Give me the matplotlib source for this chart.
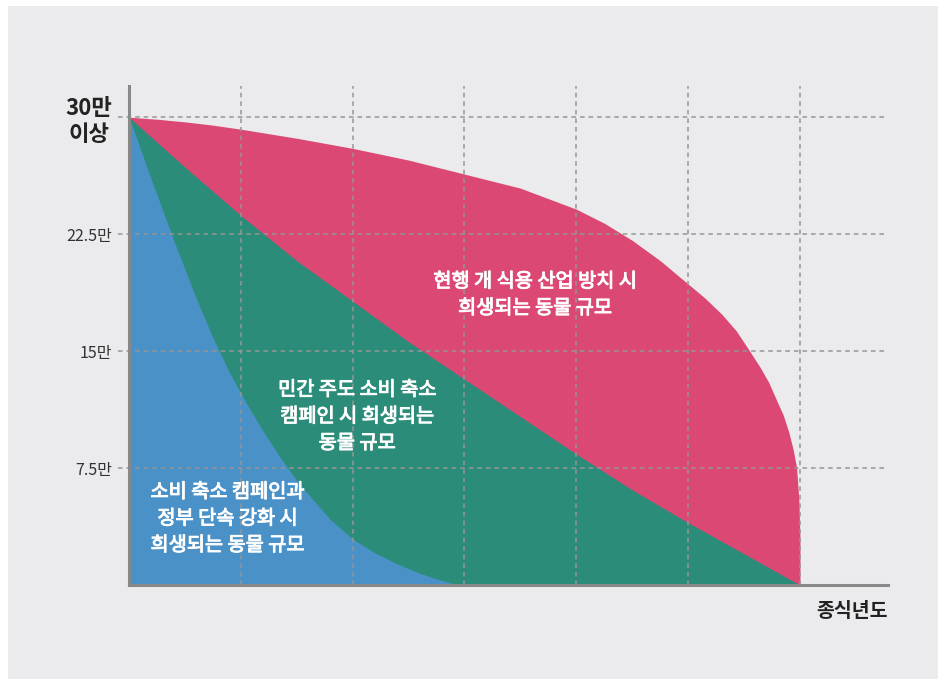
import matplotlib.pyplot as plt
import matplotlib.patheffects as pe
from matplotlib.patches import Rectangle

plt.rcParams['font.family'] = ['Noto Sans CJK KR', 'DejaVu Sans']

# 현행 개 식용 산업 방치 시
pink_x = [0, 0.25, 0.5, 0.75, 1.0, 1.5, 2.0, 2.5, 3.0, 3.5, 4.0, 4.25, 4.5, 4.75, 5.0,
          5.15, 5.3, 5.43, 5.55, 5.64, 5.72, 5.79, 5.85, 5.9, 5.94, 5.97, 5.99, 6.0, 6.0]
pink_y = [30, 29.87, 29.7, 29.49, 29.23, 28.65, 28.0, 27.25, 26.35, 25.45, 24.1, 23.2, 22.1, 20.8, 19.3,
          18.4, 17.37, 16.3, 15.0, 14.0, 13.0, 11.86, 10.9, 9.8, 8.65, 7.5, 5.45, 2.9, 0]

# 민간 주도 소비 축소 캠페인 시
green_x = [0, 0.25, 0.5, 0.75, 1.0, 1.5, 2.0, 2.5, 3.0, 3.5, 4.0, 4.5, 5.0, 5.5, 6.0]
green_y = [30, 28.4, 26.8, 25.25, 23.7, 20.8, 18.2, 15.6, 13.2, 10.8, 8.4, 6.1, 4.0, 2.0, 0]

# 소비 축소 캠페인과 정부 단속 강화 시
blue_x = [0, 0.2, 0.4, 0.6, 0.75, 0.9, 1.05, 1.2, 1.35, 1.5, 1.65, 1.8,
          2.0, 2.2, 2.4, 2.6, 2.8, 2.9, 3.0]
blue_y = [30, 26.0, 22.1, 18.4, 15.85, 13.6, 11.65, 9.85, 8.2, 6.7, 5.43, 4.2,
          2.95, 2.05, 1.35, 0.75, 0.28, 0.08, 0]

y_ticks = [7.5, 15, 22.5, 30]
y_labels = ['7.5만', '15만', '22.5만', '30만\n이상']
x_grid = [1, 2, 3, 4, 5, 6]

labels = {
    'pink': '현행 개 식용 산업 방치 시\n희생되는 동물 규모',
    'green': '민간 주도 소비 축소\n캠페인 시 희생되는\n동물 규모',
    'blue': '소비 축소 캠페인과\n정부 단속 강화 시\n희생되는 동물 규모',
}

bg = '#ebebed'
grid_color = '#959595'
axis_color = '#888888'

fig = plt.figure(figsize=(9.38, 6.79), dpi=100, facecolor='white')
fig.patches.append(Rectangle((8 / 938, 0), 1, 1 - 6 / 679, transform=fig.transFigure,
                             facecolor=bg, edgecolor='none', zorder=-10))

ax = fig.add_axes([129 / 938, 1 - 585 / 679, (888 - 129) / 938, (585 - 86) / 679])
ax.set_facecolor('none')
ax.set_xlim(0, 6.787)
ax.set_ylim(0, 32)

# stacked areas, largest first
ax.fill_between(pink_x, pink_y, 0, color='#dc4874', linewidth=0, zorder=1)
ax.fill_between(green_x, green_y, 0, color='#2b8d79', linewidth=0, zorder=1.1)
ax.fill_between(blue_x, blue_y, 0, color='#4a91c8', linewidth=0, zorder=1.2)

# dashed grid on top of the areas
for y in y_ticks:
    ax.axhline(y, xmin=-0.014, xmax=1, color=grid_color, lw=1.1, dashes=(3, 2.6),
               clip_on=False, zorder=2)
for x in x_grid:
    ax.axvline(x, color=grid_color, lw=1.1, dashes=(3, 2.6), zorder=2)

for side in ['top', 'right']:
    ax.spines[side].set_visible(False)
for side in ['left', 'bottom']:
    ax.spines[side].set_color(axis_color)
    ax.spines[side].set_linewidth(2.2)
    ax.spines[side].set_zorder(4)

ax.set_xticks([])
ax.set_yticks(y_ticks)
ax.set_yticklabels(y_labels)
ax.tick_params(axis='y', length=0, pad=12, labelsize=11.5, labelcolor='#333333')
top_label = ax.get_yticklabels()[-1]
top_label.set_fontsize(16)
top_label.set_fontweight('bold')
top_label.set_color('#222222')
top_label.set_multialignment('center')

ax.text(1.0, -0.054, '종식년도', transform=ax.transAxes, ha='right', va='center',
        fontsize=14, fontweight='bold', color='#222222')

text_style = dict(ha='center', va='center', color='white', fontsize=14.2,
                  linespacing=1.35, zorder=3,
                  path_effects=[pe.withStroke(linewidth=0.7, foreground='white')])
ax.text(3.63, 18.6, labels['pink'], **text_style)
ax.text(2.04, 10.8, labels['green'], **text_style)
ax.text(0.88, 4.25, labels['blue'], **text_style)

fig.savefig('out.png', dpi=100, facecolor=fig.get_facecolor())
